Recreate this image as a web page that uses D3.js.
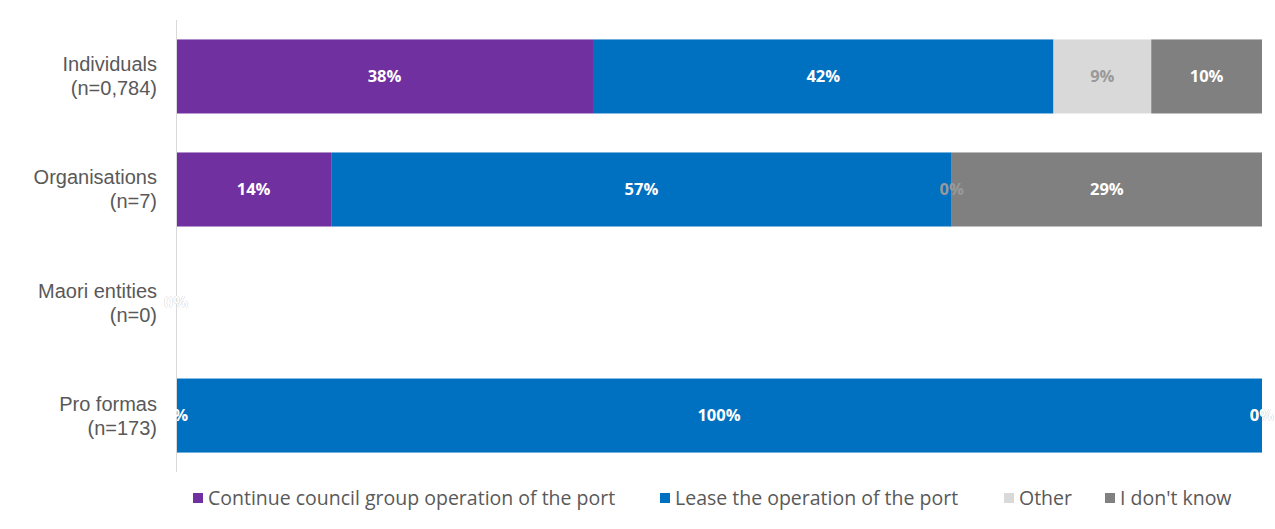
<!DOCTYPE html>
<html>
<head>
<meta charset="utf-8">
<script src="https://cdn.jsdelivr.net/npm/d3@7"></script>
<style>
  html, body { margin: 0; padding: 0; background: #fff; }
  svg { display: block; }
</style>
</head>
<body>
<svg id="chart" width="1275" height="529"></svg>
<script>
// Respondent groups (two-line labels) and their answers, in percent
const groups = ["Individuals", "Organisations", "Maori entities", "Pro formas"];
const groupCounts = ["(n=0,784)", "(n=7)", "(n=0)", "(n=173)"];
const seriesNames = ["Continue council group operation of the port", "Lease the operation of the port", "Other", "I don't know"];
const continueCouncil = [38.4, 14.29, 0, 0];
const leaseOperation = [42.4, 57.14, 0, 100];
const other = [9.0, 0, 0, 0];
const dontKnow = [10.2, 28.57, 0, 0];

const seriesValues = [continueCouncil, leaseOperation, other, dontKnow];
const colors = ["#7030a0", "#0070c0", "#d9d9d9", "#808080"];
const labelColors = ["#ffffff", "#ffffff", "#999999", "#ffffff"];

const rows = groups.map((g, i) => {
  const r = { group: g };
  seriesNames.forEach((s, k) => { r[s] = seriesValues[k][i]; });
  return r;
});

const svg = d3.select("#chart");
const x = d3.scaleLinear().domain([0, 100]).range([176, 1262]);
const y = d3.scaleBand().domain(groups).range([20, 472]).paddingInner(0.345).paddingOuter(0.172);

const stacked = d3.stack().keys(seriesNames)(rows);

// bars
const layers = svg.append("g").selectAll("g").data(stacked).join("g")
  .attr("fill", (d, i) => colors[i]);
layers.selectAll("rect").data(d => d).join("rect")
  .attr("x", d => x(d[0]))
  .attr("y", d => y(d.data.group))
  .attr("width", d => x(d[1]) - x(d[0]))
  .attr("height", y.bandwidth());

// vertical category axis line
svg.append("line")
  .attr("x1", 176.5).attr("x2", 176.5)
  .attr("y1", 20).attr("y2", 472)
  .attr("stroke", "#d9d9d9").attr("stroke-width", 1);

// value labels, drawn after all bars
const labels = svg.append("g")
  .attr("font-family", "'Open Sans', sans-serif")
  .attr("font-weight", "bold")
  .attr("font-size", 16.5)
  .attr("text-anchor", "middle");
stacked.forEach((layer, i) => {
  labels.append("g").attr("fill", labelColors[i])
    .selectAll("text").data(layer).join("text")
    .attr("x", d => x((d[0] + d[1]) / 2))
    .attr("y", d => y(d.data.group) + y.bandwidth() / 2)
    .attr("dy", "0.35em")
    .text(d => d3.format(".0f")(d.data[layer.key]) + "%");
});

// category labels, two lines each
const cat = svg.append("g")
  .attr("font-family", "'Liberation Sans', Arial, sans-serif")
  .attr("font-size", 20)
  .attr("fill", "#595959")
  .attr("text-anchor", "end");
groups.forEach((g, i) => {
  const cy = y(g) + y.bandwidth() / 2;
  const t = cat.append("text").attr("y", cy - 12);
  t.append("tspan").attr("x", 157).attr("dy", "0.35em").text(g);
  t.append("tspan").attr("x", 157).attr("dy", 24).text(groupCounts[i]);
});

// legend
const legendX = [193, 660, 1004, 1105];
const legend = svg.append("g")
  .attr("font-family", "'Open Sans', sans-serif")
  .attr("font-size", 19.5)
  .attr("fill", "#595959");
seriesNames.forEach((s, i) => {
  const gg = legend.append("g").attr("transform", `translate(${legendX[i]},498)`);
  gg.append("rect").attr("x", 0).attr("y", -5).attr("width", 10).attr("height", 10).attr("fill", colors[i]);
  gg.append("text").attr("x", 15).attr("dy", "0.35em").text(s);
});
</script>
</body>
</html>
